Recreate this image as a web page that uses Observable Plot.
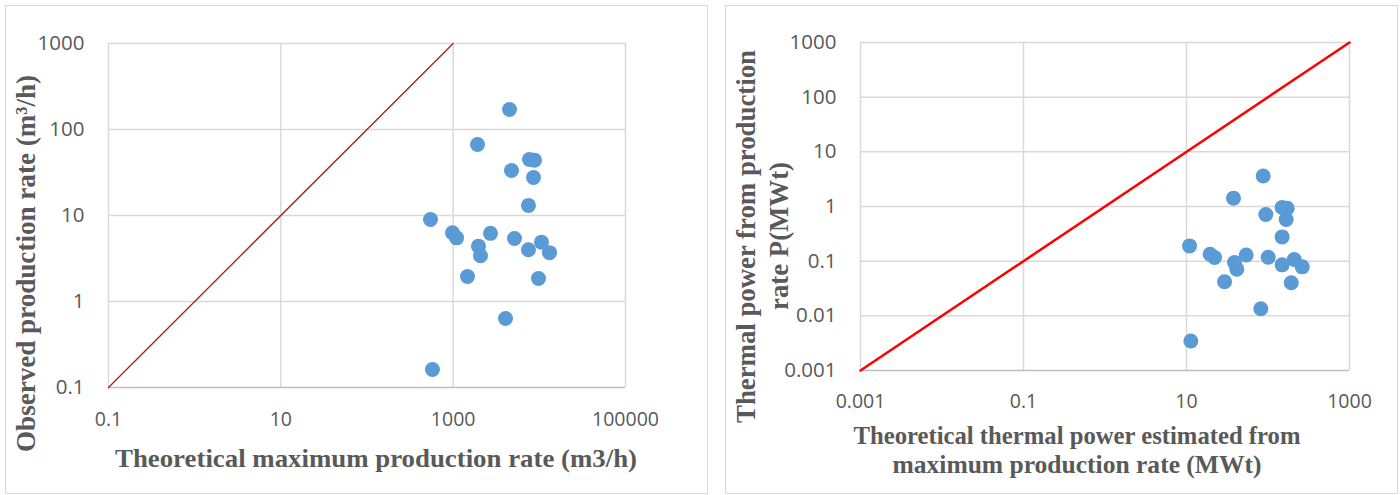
<!DOCTYPE html>
<html>
<head>
<meta charset="utf-8">
<script src="https://cdn.jsdelivr.net/npm/d3@7"></script>
<script src="https://cdn.jsdelivr.net/npm/@observablehq/plot@0.6"></script>
<style>
  html, body { margin: 0; padding: 0; background: #ffffff; }
  #wrap { position: relative; width: 1400px; height: 495px; background: #ffffff; overflow: hidden; }
  .panel { position: absolute; border: 1px solid #d9d9d9; box-sizing: border-box; }
  .chart { position: absolute; top: 0; }
  .chart svg { overflow: visible; }
</style>
</head>
<body>
<div id="wrap">
  <div class="panel" style="left:5px; top:5px; width:703px; height:489px;"></div>
  <div class="panel" style="left:725px; top:5px; width:673px; height:489px;"></div>
  <div id="left" class="chart" style="left:0px;"></div>
  <div id="right" class="chart" style="left:715px;"></div>
</div>
<script>
// ---------- Left chart data: production rates (m3/h) ----------
const leftTheoretical = [4506, 1915, 4750, 7690, 8790, 8550, 7480, 546, 982, 1096, 2711,
                         1966, 2076, 5150, 10590, 7480, 13120, 1466, 9780, 4050, 575];
const leftObserved    = [171, 67, 33.3, 44.8, 44, 27.7, 13.1, 9.0, 6.3, 5.5, 6.2,
                         4.4, 3.4, 5.4, 4.9, 4.0, 3.7, 1.95, 1.85, 0.634, 0.162];
const leftXTicks = [0.1, 10, 1000, 100000];
const leftYTicks = [0.1, 1, 10, 100, 1000];
const leftRefLine = [0.1, 1000];

// ---------- Right chart data: thermal power (MWt) ----------
const rightTheoretical = [87.3, 37.7, 149, 172, 94, 167, 149, 10.9, 19.5, 22.1, 54,
                          100.5, 38.8, 41.4, 149, 210, 263, 29.3, 193, 81.6, 11.3];
const rightObserved    = [3.61, 1.42, 0.957, 0.93, 0.713, 0.578, 0.278, 0.19, 0.134, 0.117, 0.13,
                          0.118, 0.0946, 0.0714, 0.0857, 0.107, 0.0787, 0.0419, 0.0402, 0.01345, 0.00346];
const rightXTicks = [0.001, 0.1, 10, 1000];
const rightYTicks = [0.001, 0.01, 0.1, 1, 10, 100, 1000];
const rightRefLine = [0.001, 1000];

const textColor = "#595959";
const gridColor = "#d9d9d9";
const dotColor = "#5b9bd5";

function addTitle(svg, txt, x, y, len, size, rotate) {
  const t = d3.select(svg).append("text")
    .attr("transform", rotate ? `translate(${x},${y}) rotate(-90)` : `translate(${x},${y})`)
    .attr("text-anchor", "middle")
    .attr("font-family", "'Liberation Serif', 'Times New Roman', serif")
    .attr("font-weight", "bold")
    .attr("font-size", size)
    .attr("fill", textColor)
    .attr("textLength", len)
    .attr("lengthAdjust", "spacingAndGlyphs")
    .text(txt);
  return t;
}

// ---------- Left chart ----------
const leftData = leftTheoretical.map((x, i) => ({x, y: leftObserved[i]}));
const leftLine = leftRefLine.map(v => ({x: v, y: v}));

const leftPlot = Plot.plot({
  width: 715, height: 495,
  marginLeft: 108, marginRight: 90, marginTop: 43, marginBottom: 108,
  x: {type: "log", domain: [leftXTicks[0], leftXTicks[leftXTicks.length - 1]]},
  y: {type: "log", domain: [leftYTicks[0], leftYTicks[leftYTicks.length - 1]]},
  style: {fontFamily: "'Open Sans', sans-serif", fontSize: "19px", color: textColor, background: "transparent"},
  marks: [
    Plot.gridX(leftXTicks.slice(1), {stroke: gridColor, strokeOpacity: 1, strokeWidth: 1.5}),
    Plot.gridY(leftYTicks.slice(1), {stroke: gridColor, strokeOpacity: 1, strokeWidth: 1.5}),
    Plot.ruleX([leftXTicks[0]], {stroke: gridColor, strokeWidth: 1.5}),
    Plot.ruleY([leftYTicks[0]], {stroke: "#bfbfbf", strokeWidth: 1.5}),
    Plot.axisX(leftXTicks, {tickSize: 0, tickPadding: 25, label: null, tickFormat: d => String(d), fontSize: 19.5, fill: textColor}),
    Plot.axisY(leftYTicks, {tickSize: 0, tickPadding: 24, label: null, tickFormat: d => String(d), fontSize: 20.5, fill: textColor}),
    Plot.line(leftLine, {x: "x", y: "y", stroke: "#a3201f", strokeWidth: 1.3}),
    Plot.dot(leftData, {x: "x", y: "y", r: 7.5, fill: dotColor, stroke: "none"})
  ]
});
document.getElementById("left").appendChild(leftPlot);
addTitle(leftPlot, "Theoretical maximum production rate (m3/h)", 376, 467, 522, 25, false);
addTitle(leftPlot, "Observed production rate (m\u00B3/h)", 35, 263.5, 377, 28, true);

// ---------- Right chart ----------
const rightData = rightTheoretical.map((x, i) => ({x, y: rightObserved[i]}));
const rightLine = rightRefLine.map(v => ({x: v, y: v}));

const rightPlot = Plot.plot({
  width: 685, height: 495,
  marginLeft: 145, marginRight: 51, marginTop: 42, marginBottom: 125,
  x: {type: "log", domain: [rightXTicks[0], rightXTicks[rightXTicks.length - 1]]},
  y: {type: "log", domain: [rightYTicks[0], rightYTicks[rightYTicks.length - 1]]},
  style: {fontFamily: "'Open Sans', sans-serif", fontSize: "19px", color: textColor, background: "transparent"},
  marks: [
    Plot.gridX(rightXTicks.slice(1), {stroke: gridColor, strokeOpacity: 1, strokeWidth: 1.5}),
    Plot.gridY(rightYTicks.slice(1), {stroke: gridColor, strokeOpacity: 1, strokeWidth: 1.5}),
    Plot.ruleX([rightXTicks[0]], {stroke: gridColor, strokeWidth: 1.5}),
    Plot.ruleY([rightYTicks[0]], {stroke: "#bfbfbf", strokeWidth: 1.5}),
    Plot.axisX(rightXTicks, {tickSize: 0, tickPadding: 24, label: null, tickFormat: d => String(d), fontSize: 19.5, fill: textColor}),
    Plot.axisY(rightYTicks, {tickSize: 0, tickPadding: 24, label: null, tickFormat: d => String(d), fontSize: 20.5, fill: textColor}),
    Plot.line(rightLine, {x: "x", y: "y", stroke: "#ff0000", strokeWidth: 2.5}),
    Plot.dot(rightData, {x: "x", y: "y", r: 7.5, fill: dotColor, stroke: "none"})
  ]
});
document.getElementById("right").appendChild(rightPlot);
addTitle(rightPlot, "Theoretical thermal power estimated from", 362, 444, 447, 26, false);
addTitle(rightPlot, "maximum production rate (MWt)", 362, 473, 369, 26, false);
addTitle(rightPlot, "Thermal power from production", 40, 236.5, 373, 28, true);
addTitle(rightPlot, "rate P(MWt)", 73, 236, 148, 28, true);
</script>
</body>
</html>
